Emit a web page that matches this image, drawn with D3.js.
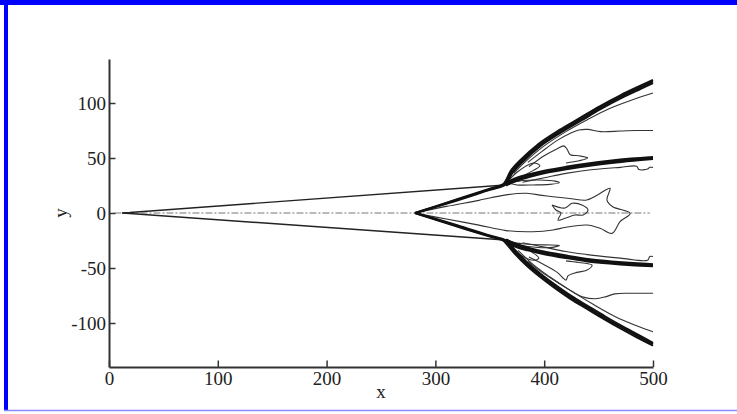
<!DOCTYPE html>
<html lang="en">
<head>
<meta charset="UTF-8">
<title>contours</title>
<script src="https://d3js.org/d3.v7.min.js"></script>
<style>
  body { margin: 0; background: #fff; }
  svg { display: block; }
  .axis text { font-family: "Liberation Serif", "DejaVu Serif", serif; font-size: 19px; fill: #222; }
</style>
</head>
<body>
<script>
// axis ticks
var xMajor = [0, 100, 200, 300, 400, 500];
var xMinor = d3.range(0, 501, 20);
var yMajor = [-100, -50, 0, 50, 100];
var yMinor = d3.range(-140, 141, 10);

// contour lines, [x, y]
var centerLine = [[5, 0], [497, 0]];

var wedgeUpper = [[12, 0.15], [19, 0.5], [364, 25.5]];
var wedgeLower = [[12, -0.15], [19, -0.5], [364, -24.5]];

// thick bundles: wedge shock running into the bow shock
var bowUpperA = [[281,0],[320,12.5],[350,22],[362,26],[365,30],[369,38],[377,47],[395,63],[414,75.5],[433,86.5],[451,97],[470,107],[488,115.5],[500,121]];
var bowUpperB = [[281.5,0],[320,12],[350,21.5],[362.5,25.5],[365.6,28.8],[369.6,36.8],[377.6,45.8],[395.6,61.8],[414.6,74.3],[433.6,85.3],[451.6,95.8],[470.6,105.8],[488.6,114.3],[500,119.6]];
var bowUpperC = [[282,0],[320,11.4],[350,21],[363,25],[366.2,27.6],[370.2,35.6],[378.2,44.6],[396.2,60.6],[415.2,73.1],[434.2,84.1],[452.2,94.6],[471.2,104.6],[489.2,113.1],[500,118.2]];
var bowLowerA = [[281,0],[320,-12.3],[350,-21.5],[362,-25],[366,-29],[372,-36],[384,-48],[396,-58],[408,-67],[424,-78],[439,-87],[455,-96.5],[470,-105],[485,-113],[500,-120.5]];
var bowLowerB = [[281.5,0],[320,-11.8],[350,-21],[362.5,-24.5],[366.6,-27.8],[372.6,-34.8],[384.6,-46.8],[396.6,-56.8],[408.6,-65.8],[424.6,-76.8],[439.6,-85.8],[455.6,-95.3],[470.6,-103.8],[485.6,-111.8],[500,-119.3]];
var bowLowerC = [[282,0],[320,-11.2],[350,-20.5],[363,-24],[367.2,-26.6],[373.2,-33.6],[385.2,-45.6],[397.2,-55.6],[409.2,-64.6],[425.2,-75.6],[440.2,-84.6],[456.2,-94.1],[471.2,-102.6],[486.2,-110.6],[500,-118.1]];

// thick bundles: slip lines towards y = +-50
var slipUpperA = [[364,26],[372,31],[385,35],[400,38.5],[420,42],[440,45],[460,47.5],[480,49.5],[500,51]];
var slipUpperB = [[364.5,25.5],[373,30],[386,34],[401,37.5],[421,41],[441,44],[461,46.5],[481,48.5],[500,50]];
var slipUpperC = [[365,25],[374,29],[387,33],[402,36.5],[422,40],[442,43],[462,45.5],[482,47.5],[500,49]];
var slipLowerA = [[364,-25],[372,-30],[385,-34],[400,-37.5],[420,-41],[440,-44],[460,-46],[480,-47.5],[500,-48.5]];
var slipLowerB = [[364.5,-24.5],[373,-29],[386,-33],[401,-36.5],[421,-40],[441,-43],[461,-45],[481,-46.5],[500,-47.5]];
var slipLowerC = [[365,-24],[374,-28],[387,-32],[402,-35.5],[422,-39],[442,-42],[462,-44],[482,-45.5],[500,-46.5]];

// thin contours
var bowUpperThin = [[372,36],[382,46],[400,61],[420,74],[440,85],[460,95],[480,102.5],[500,109]];
var bowLowerThin = [[376,-34],[390,-47],[405,-58],[425,-71],[445,-83],[465,-94],[485,-102.5],[500,-108]];
var upperMid = [[385,46],[398,56],[412,66],[425,73],[432,75.5],[440,76],[452,74],[470,74.5],[485,75],[500,75]];
var lowerMid = [[385,-44],[398,-54],[412,-63],[425,-71],[436,-76.5],[447,-78],[457,-76],[465,-73.5],[480,-73],[500,-73]];
var upperFlag = [[386,42],[400,52],[412,58.5],[418,61],[421,58],[424,53],[432,52],[440,50],[432,47.5],[420,45.5]];
var lowerFlag = [[386,-40],[400,-47],[412,-54],[420,-61],[422,-57],[430,-54],[439,-52],[444,-47.5],[432,-45],[420,-43.5]];
var slipUpperThin = [[380,28],[400,32],[420,36],[445,39.5],[470,41.5],[485,42.5],[487,39.5],[495,40],[497,41.5],[500,41.5]];
var slipLowerThin = [[380,-27],[400,-31],[420,-35],[445,-38.5],[470,-41],[495,-43],[497,-39.5],[500,-39.5]];
var loopUpper1 = [[364,25.5],[375,37],[390,45.5],[396,43],[385,36],[372,29],[364,25.5]];
var loopUpper2 = [[368,27],[380,29.5],[395,30],[410,29],[414,27.5],[405,26],[390,25.5],[375,25.5],[368,27]];
var loopLower1 = [[364,-24.5],[375,-36],[390,-43],[395,-41],[386,-34],[372,-28],[364,-24.5]];
var loopLower2 = [[368,-26],[380,-28],[400,-29],[414,-29.5],[405,-31.5],[385,-30.5],[370,-28]];
var starLoop = [[286,1],[310,6],[340,11.5],[365,16.5],[384,17.9],[398,16],[408,14.8],[425,13],[439,11.8],[449,16.4],[460.5,22.5],[457.7,11.8],[463,5.7],[479,-0.3],[469.7,-7.9],[462.3,-18.5],[451.3,-13.9],[439.3,-10.9],[420,-13],[408,-15.5],[389.7,-17],[365,-16],[340,-11],[310,-5.5],[286,-1]];
var innerBlob = [[407.2,7.3],[419.1,4.5],[425.6,8.8],[434.7,7.3],[440.3,2.7],[435.7,-1.8],[428.3,-1.8],[420,-4.5],[412.7,-6.4],[415.4,0],[410.8,2.7],[407.2,7.3]];

var bundleLines = [bowUpperA, bowUpperB, bowUpperC, bowLowerA, bowLowerB, bowLowerC,
                   slipUpperA, slipUpperB, slipUpperC, slipLowerA, slipLowerB, slipLowerC];
var thinLines = [bowUpperThin, bowLowerThin, upperMid, lowerMid, upperFlag, lowerFlag,
                 slipUpperThin, slipLowerThin, loopUpper1, loopUpper2, loopLower1, loopLower2,
                 starLoop, innerBlob];

var W = 737, H = 414;
var svg = d3.select("body").append("svg").attr("width", W).attr("height", H);

// blue frame
svg.append("rect").attr("x", 0).attr("y", 0).attr("width", W).attr("height", 5).attr("fill", "#0000ff");
svg.append("rect").attr("x", 4).attr("y", 0).attr("width", 4).attr("height", 411).attr("fill", "#0000ff");
svg.append("line").attr("x1", 4).attr("x2", W).attr("y1", 410.5).attr("y2", 410.5)
    .attr("stroke", "#8a8aff").attr("stroke-width", 1.5);

var x = d3.scaleLinear().domain([0, 500]).range([109, 653]);
var y = d3.scaleLinear().domain([-140, 140]).range([367, 59]);

var line = d3.line().x(function(d){ return x(d[0]); }).y(function(d){ return y(d[1]); })
    .curve(d3.curveCatmullRom.alpha(0.5));
var straight = d3.line().x(function(d){ return x(d[0]); }).y(function(d){ return y(d[1]); });

var plot = svg.append("g");

plot.append("path").attr("d", straight(centerLine))
    .attr("fill", "none").attr("stroke", "#777").attr("stroke-width", 1)
    .attr("stroke-dasharray", "7,2,2,2");

plot.selectAll(".wedge").data([wedgeUpper, wedgeLower]).enter().append("path")
    .attr("class", "wedge").attr("d", straight)
    .attr("fill", "none").attr("stroke", "#222").attr("stroke-width", 1.4);

plot.selectAll(".thin").data(thinLines).enter().append("path")
    .attr("class", "thin").attr("d", line)
    .attr("fill", "none").attr("stroke", "#333").attr("stroke-width", 1.1);

plot.selectAll(".bundle").data(bundleLines).enter().append("path")
    .attr("class", "bundle").attr("d", line)
    .attr("fill", "none").attr("stroke", "#111").attr("stroke-width", 2);

// axes, ticks inward
var fmt = function(d){ return String(d); };
var gx = svg.append("g").attr("class", "axis").attr("transform", "translate(0," + y(-140) + ")");
gx.call(d3.axisBottom(x).tickValues(xMinor).tickSize(-3.5).tickFormat(""));
gx.call(d3.axisBottom(x).tickValues(xMajor).tickSizeInner(-6.5).tickSizeOuter(0).tickPadding(5).tickFormat(fmt));

var gy = svg.append("g").attr("class", "axis").attr("transform", "translate(" + x(0) + ",0)");
gy.call(d3.axisLeft(y).tickValues(yMinor).tickSize(-3.5).tickFormat(""));
gy.call(d3.axisLeft(y).tickValues(yMajor).tickSizeInner(-6.5).tickSizeOuter(0).tickPadding(3).tickFormat(fmt));

svg.selectAll(".axis path, .axis line").attr("stroke", "#333").attr("stroke-width", 1.5);
svg.selectAll(".axis path").attr("stroke-width", 2);

svg.append("text").attr("x", x(250)).attr("y", 398).attr("text-anchor", "middle")
    .style("font-family", "Liberation Serif, serif").style("font-size", "19px").attr("fill", "#222")
    .text("x");
svg.append("text").attr("transform", "translate(67," + y(0) + ") rotate(-90)")
    .attr("text-anchor", "middle")
    .style("font-family", "Liberation Serif, serif").style("font-size", "19px").attr("fill", "#222")
    .text("y");
</script>
</body>
</html>
